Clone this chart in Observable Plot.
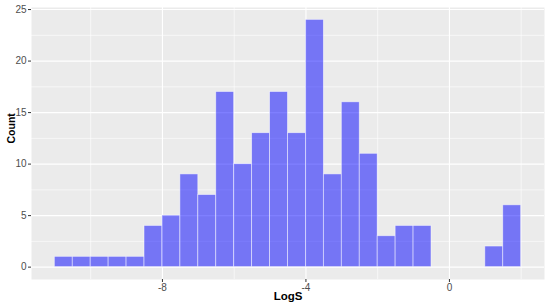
<!DOCTYPE html>
<html>
<head>
<meta charset="utf-8">
<script src="https://cdn.jsdelivr.net/npm/d3@7"></script>
<script src="https://cdn.jsdelivr.net/npm/@observablehq/plot@0.6"></script>
<style>
  html, body { margin: 0; padding: 0; background: #ffffff; }
  #chart svg { display: block; }
</style>
</head>
<body>
<div id="chart"></div>
<script>
// Histogram of LogS, binwidth 0.5
const binStarts = [-11, -10.5, -10, -9.5, -9, -8.5, -8, -7.5, -7, -6.5, -6, -5.5, -5, -4.5, -4, -3.5, -3, -2.5, -2, -1.5, -1, -0.5, 0, 0.5, 1, 1.5];
const counts    = [1, 1, 1, 1, 1, 4, 5, 9, 7, 17, 10, 13, 17, 13, 24, 9, 16, 11, 3, 4, 4, 0, 0, 0, 2, 6];
const binWidth = 0.5;
const xTicks = [-8, -4, 0];
const xMinor = [-10, -6, -2, 2];
const yTicks = [0, 5, 10, 15, 20, 25];
const yMinor = [2.5, 7.5, 12.5, 17.5, 22.5];
const xTitle = "LogS";
const yTitle = "Count";

const bins = binStarts.map((s, i) => ({x1: s, x2: s + binWidth, count: counts[i]})).filter(d => d.count > 0);

const chart = Plot.plot({
  width: 550,
  height: 306,
  marginLeft: 31,
  marginRight: 6,
  marginTop: 7,
  marginBottom: 27,
  x: {domain: [-11.65, 2.65]},
  y: {domain: [-1.2, 25.2]},
  style: {background: "#ffffff", fontFamily: "'Liberation Sans', Arial, sans-serif"},
  marks: [
    Plot.frame({fill: "#EBEBEB", stroke: "none"}),
    Plot.gridX(xMinor, {stroke: "#ffffff", strokeOpacity: 1, strokeWidth: 0.6}),
    Plot.gridY(yMinor, {stroke: "#ffffff", strokeOpacity: 1, strokeWidth: 0.6}),
    Plot.gridX(xTicks, {stroke: "#ffffff", strokeOpacity: 1, strokeWidth: 1.1}),
    Plot.gridY(yTicks, {stroke: "#ffffff", strokeOpacity: 1, strokeWidth: 1.1}),
    Plot.rectY(bins, {x1: "x1", x2: "x2", y1: 0, y2: "count", fill: "#0000FF", fillOpacity: 0.5, stroke: "#ffffff", strokeOpacity: 0.6, strokeWidth: 0.8, inset: 0}),
    Plot.axisX(xTicks, {tickSize: 3, tickPadding: 1, stroke: "#333333", fill: "#4D4D4D", fontSize: 10, label: null, tickFormat: d => String(d)}),
    Plot.axisY(yTicks, {tickSize: 3, tickPadding: 2, stroke: "#333333", fill: "#4D4D4D", fontSize: 10, label: null, tickFormat: d => String(d)}),
    Plot.text([xTitle], {frameAnchor: "bottom", dy: 20, fontWeight: "bold", fontSize: 11.5, fill: "#000000"}),
    Plot.text([yTitle], {frameAnchor: "left", dx: -20, rotate: -90, fontWeight: "bold", fontSize: 10.5, fill: "#000000"})
  ]
});
document.getElementById("chart").appendChild(chart);
</script>
</body>
</html>
